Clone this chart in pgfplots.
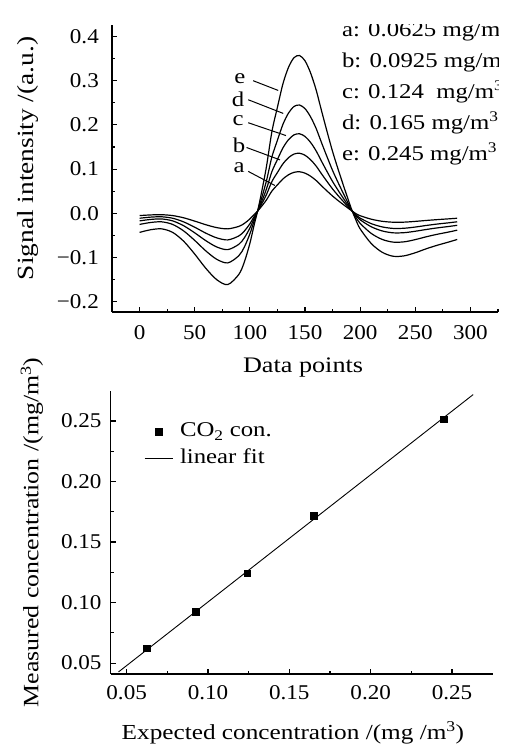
\documentclass[border=0pt]{standalone}
\usepackage{fontspec}
\setmainfont[FakeStretch=1.18]{Liberation Serif}
\newfontfamily\tickfont[FakeStretch=1.1]{Liberation Serif}
\usepackage{pgfplots}
\pgfplotsset{compat=1.18}

\pgfplotsset{
  panel/.style={
    scale only axis,
    axis lines*=left,
    tick align=inside,
    major tick length=5bp,
    minor tick length=3bp,
    axis line style={line width=1.1bp},
    every tick/.style={line width=1.1bp, black},
    tick label style={font=\tickfont},
  },
  markleg/.style={legend image code/.code={\draw[mark repeat=2,mark phase=2,##1] plot coordinates {(0bp,0bp) (14bp,0bp) (28bp,0bp)};}},
  lineleg/.style={legend image code/.code={\draw[##1] (0bp,0bp) -- (28bp,0bp);}},
}

\begin{document}
\fontsize{21bp}{25bp}\selectfont
\begin{tikzpicture}
\path[use as bounding box] (0,0) rectangle (507bp,745bp);

% upper panel: 2f signals
\begin{axis}[
  panel,
  at={(112bp,433bp)}, anchor=south west,
  width=386bp, height=287bp,
  xmin=-25, xmax=325, ymin=-0.223, ymax=0.426,
  xtick={0,50,100,150,200,250,300},
  xticklabels={0,50,100,150,200,250,300},
  minor xtick={-25,25,75,125,175,225,275,325},
  ytick={-0.2,-0.1,0,0.1,0.2,0.3,0.4},
  yticklabels={−0.2,−0.1,0.0,0.1,0.2,0.3,0.4},
  minor ytick={-0.15,-0.05,0.05,0.15,0.25,0.35},
  xticklabel style={yshift=-6bp},
  yticklabel style={xshift=-6bp},
  xlabel={Data points},
  ylabel={Signal intensity /(a.u.)},
  xlabel style={at={(axis description cs:0.495,-0.195)}, anchor=center,
    font=\fontsize{22.2bp}{26bp}\selectfont},
  ylabel style={at={(axis description cs:-0.218,0.535)}, anchor=center,
    font=\fontsize{23.2bp}{27bp}\selectfont},
]
% a
\addplot[black, line width=1.2bp, smooth] coordinates {
(0,-0.005) (10,-0.0035) (20,-0.003) (30,-0.005) (40,-0.010) (50,-0.0175) (60,-0.0256) (70,-0.0322) (80,-0.035) (90,-0.0294) (95,-0.0227) (100,-0.0126) (104,-0.0022) (107,0.005) (110,0.0139) (115,0.0303) (120,0.0505) (125,0.0645) (130,0.0779) (135,0.0872) (140,0.0928) (145,0.0941) (150,0.0910) (155,0.0842) (160,0.0746) (165,0.0624) (170,0.0505) (175,0.0392) (180,0.029) (185,0.0194) (190,0.0101) (193,0.0047) (196,-0.0003) (200,-0.0053) (210,-0.0131) (220,-0.0179) (230,-0.020) (240,-0.0198) (250,-0.0181) (260,-0.016) (270,-0.0141) (280,-0.0124) (288,-0.011)
};
% b
\addplot[black, line width=1.2bp, smooth] coordinates {
(0,-0.011) (10,-0.0085) (20,-0.0077) (30,-0.011) (40,-0.0193) (50,-0.0313) (60,-0.0446) (70,-0.0554) (80,-0.060) (90,-0.051) (95,-0.040) (100,-0.0236) (104,-0.0068) (107,0.005) (110,0.018) (115,0.0422) (120,0.072) (125,0.0924) (130,0.1121) (135,0.1259) (140,0.1341) (145,0.136) (150,0.1315) (155,0.1214) (160,0.1073) (165,0.0894) (170,0.072) (175,0.0552) (180,0.0403) (185,0.0262) (190,0.0124) (193,0.0046) (196,-0.0028) (200,-0.0107) (210,-0.0231) (220,-0.0306) (230,-0.034) (240,-0.0336) (250,-0.0309) (260,-0.0273) (270,-0.0241) (280,-0.0214) (288,-0.019)
};
% c
\addplot[black, line width=1.2bp, smooth] coordinates {
(0,-0.017) (10,-0.0137) (20,-0.0126) (30,-0.017) (40,-0.028) (50,-0.044) (60,-0.0616) (70,-0.076) (80,-0.082) (90,-0.0699) (95,-0.0553) (100,-0.0333) (104,-0.0107) (107,0.005) (110,0.0224) (115,0.0547) (120,0.0945) (125,0.1218) (130,0.1481) (135,0.1665) (140,0.1775) (145,0.180) (150,0.174) (155,0.1606) (160,0.1417) (165,0.1178) (170,0.0945) (175,0.0721) (180,0.0522) (185,0.0333) (190,0.0149) (193,0.0045) (196,-0.0045) (200,-0.0145) (210,-0.0302) (220,-0.0397) (230,-0.044) (240,-0.0436) (250,-0.0404) (260,-0.0364) (270,-0.0328) (280,-0.0297) (288,-0.027)
};
% d
\addplot[black, line width=1.2bp, smooth] coordinates {
(0,-0.025) (10,-0.0206) (20,-0.0191) (30,-0.025) (40,-0.0397) (50,-0.0611) (60,-0.0847) (70,-0.1039) (80,-0.112) (90,-0.0957) (95,-0.0761) (100,-0.0465) (104,-0.0162) (107,0.005) (110,0.0289) (115,0.0732) (120,0.1278) (125,0.1653) (130,0.2014) (135,0.2267) (140,0.2417) (145,0.245) (150,0.2369) (155,0.2185) (160,0.1926) (165,0.1598) (170,0.1278) (175,0.0971) (180,0.0698) (185,0.0439) (190,0.0186) (193,0.0043) (196,-0.0083) (200,-0.0226) (210,-0.0452) (220,-0.0589) (230,-0.065) (240,-0.0643) (250,-0.0593) (260,-0.0529) (270,-0.0472) (280,-0.0423) (288,-0.038)
};
% e
\addplot[black, line width=1.2bp, smooth] coordinates {
(0,-0.043) (10,-0.037) (20,-0.035) (30,-0.043) (40,-0.063) (50,-0.092) (60,-0.124) (70,-0.150) (80,-0.161) (90,-0.138) (95,-0.110) (100,-0.068) (104,-0.025) (107,0.005) (110,0.040) (115,0.105) (120,0.185) (125,0.240) (130,0.293) (135,0.330) (140,0.352) (145,0.357) (150,0.345) (155,0.318) (160,0.280) (165,0.232) (170,0.185) (175,0.140) (180,0.100) (185,0.062) (190,0.025) (193,0.004) (196,-0.014) (200,-0.035) (210,-0.068) (220,-0.088) (230,-0.097) (240,-0.096) (250,-0.089) (260,-0.080) (270,-0.072) (280,-0.065) (288,-0.059)
};

% curve letters with leaders
\node[inner sep=0pt] at (axis cs:90.9,0.304) {e};
\node[inner sep=0pt] at (axis cs:89.4,0.257) {d};
\node[inner sep=0pt] at (axis cs:89.4,0.210) {c};
\node[inner sep=0pt] at (axis cs:90.3,0.153) {b};
\node[inner sep=0pt] at (axis cs:90.3,0.104) {a};
\draw[line width=1bp] (axis cs:103,0.300) -- (axis cs:125.7,0.278);
\draw[line width=1bp] (axis cs:98.5,0.257) -- (axis cs:130.3,0.226);
\draw[line width=1bp] (axis cs:98.5,0.205) -- (axis cs:132.7,0.176);
\draw[line width=1bp] (axis cs:97,0.149) -- (axis cs:127.3,0.121);
\draw[line width=1bp] (axis cs:98.5,0.095) -- (axis cs:122.7,0.063);

% concentrations
\node[anchor=base west, inner sep=0pt] at (axis cs:183.4,0.400) {a: 0.0625 mg/m\textsuperscript{3}};
\node[anchor=base west, inner sep=0pt] at (axis cs:183.4,0.330) {b: 0.0925 mg/m\textsuperscript{3}};
\node[anchor=base west, inner sep=0pt] at (axis cs:183.4,0.260) {c: 0.124\ \ mg/m\textsuperscript{3}};
\node[anchor=base west, inner sep=0pt] at (axis cs:183.4,0.190) {d: 0.165 mg/m\textsuperscript{3}};
\node[anchor=base west, inner sep=0pt] at (axis cs:183.4,0.120) {e: 0.245 mg/m\textsuperscript{3}};
\end{axis}

% lower panel: calibration
\begin{axis}[
  panel,
  at={(110.7bp,71bp)}, anchor=south west,
  width=382bp, height=283.3bp,
  xmin=0.0402, xmax=0.275, ymin=0.041, ymax=0.275,
  xtick={0.05,0.10,0.15,0.20,0.25},
  xticklabels={0.05,0.10,0.15,0.20,0.25},
  minor xtick={0.075,0.125,0.175,0.225},
  ytick={0.05,0.10,0.15,0.20,0.25},
  yticklabels={0.05,0.10,0.15,0.20,0.25},
  minor ytick={0.075,0.125,0.175,0.225},
  xticklabel style={yshift=-4bp},
  yticklabel style={xshift=-2bp},
  xlabel={Expected concentration /(mg /m\textsuperscript{3})},
  ylabel={Measured concentration /(mg/m\textsuperscript{3})},
  xlabel style={at={(axis description cs:0.477,-0.208)}, anchor=center,
    font=\fontsize{21.4bp}{25bp}\selectfont},
  ylabel style={at={(axis description cs:-0.206,0.5)}, anchor=center,
    font=\fontsize{21.9bp}{26bp}\selectfont},
  legend style={at={(axis description cs:0.087,0.89)}, anchor=north west,
    draw=none, fill=none, inner sep=0pt, nodes={inner sep=1bp}, row sep=7bp,
    /tikz/every odd column/.append style={column sep=6bp}},
  legend cell align=left,
]
\addplot[only marks, mark=square*, mark size=3.3bp, black, markleg]
  coordinates {(0.0625,0.0624) (0.0925,0.0926) (0.124,0.1243) (0.165,0.1716) (0.245,0.2514)};
\addlegendentry{CO\textsubscript{2} con.}
\addplot[black, line width=0.9bp, lineleg]
  coordinates {(0.045,0.0427) (0.263,0.2718)};
\addlegendentry{linear fit}
\end{axis}
\end{tikzpicture}
\end{document}
